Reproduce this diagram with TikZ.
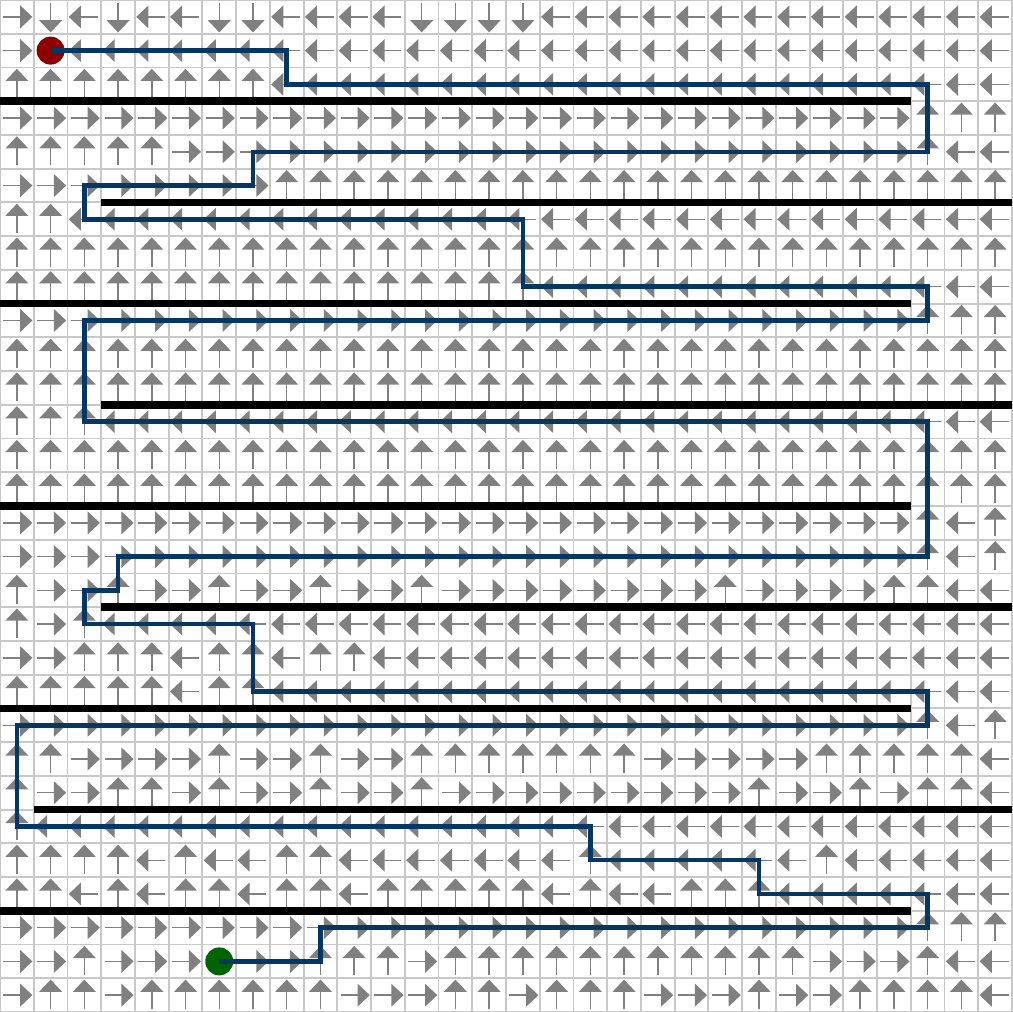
\documentclass[tikz,border=0pt]{standalone}
\usepackage{tikz}
\definecolor{gridgray}{RGB}{200,200,200}
\definecolor{arrowgray}{RGB}{128,128,128}
\definecolor{routeblue}{RGB}{4,55,99}
\definecolor{startred}{RGB}{140,0,0}
\definecolor{goalgreen}{RGB}{0,100,0}
\def\angR{0}\def\angU{90}\def\angL{180}\def\angD{270}
\tikzset{
  policy/.pic = {
    \draw[arrowgray, line width = 0.6pt] (-0.4,0) -- (0.12,0);
    \fill[arrowgray] (0.1,0.34) -- (0.46,0) -- (0.1,-0.34) -- cycle;
  },
  wall/.style = {black, line width = 3.2pt},
  route/.style = {routeblue, line width = 1.9pt, line join = miter},
  marker/.style = {circle, inner sep = 0pt, minimum size = 0.415cm},
}

\begin{document}
\begin{tikzpicture}[x = 0.5cm, y = -0.5cm]
\useasboundingbox (0,0) rectangle (30,30);
\fill[white] (0,0) rectangle (30,30);
\draw[gridgray, line width = 0.8pt, xstep = 0.5cm, ystep = 0.5cm] (0,0) grid (30,30);
% greedy policy, one row of the maze per line
\foreach \row [count = \rw from 0] in {%
{R,D,L,D,L,L,D,D,L,L,L,L,D,D,D,D,L,L,L,L,L,L,L,L,L,L,L,L,L,L},%
{R,X,L,L,L,L,L,L,L,L,L,L,L,L,L,L,L,L,L,L,L,L,L,L,L,L,L,L,L,L},%
{U,U,U,U,U,U,U,U,L,L,L,L,L,L,L,L,L,L,L,L,L,L,L,L,L,L,L,L,L,L},%
{R,R,R,R,R,R,R,R,R,R,R,R,R,R,R,R,R,R,R,R,R,R,R,R,R,R,R,U,U,U},%
{U,U,U,U,U,R,R,R,R,R,R,R,R,R,R,R,R,R,R,R,R,R,R,R,R,R,R,U,L,L},%
{R,R,R,R,R,R,R,R,U,U,U,U,U,U,U,U,U,U,U,U,U,U,U,U,U,U,U,U,U,U},%
{U,U,L,L,L,L,L,L,L,L,L,L,L,L,L,L,L,L,L,L,L,L,L,L,L,L,L,L,L,L},%
{U,U,U,U,U,U,U,U,U,U,U,U,U,U,U,U,U,U,U,U,U,U,U,U,U,U,U,U,U,U},%
{U,U,U,U,U,U,U,U,U,U,U,U,U,U,U,U,L,L,L,L,L,L,L,L,L,L,L,L,L,L},%
{R,R,R,R,R,R,R,R,R,R,R,R,R,R,R,R,R,R,R,R,R,R,R,R,R,R,R,U,U,U},%
{U,U,U,U,U,U,U,U,U,U,U,U,U,U,U,U,U,U,U,U,U,U,U,U,U,U,U,U,U,U},%
{U,U,U,U,U,U,U,U,U,U,U,U,U,U,U,U,U,U,U,U,U,U,U,U,U,U,U,U,U,U},%
{U,U,U,L,L,L,L,L,L,L,L,L,L,L,L,L,L,L,L,L,L,L,L,L,L,L,L,L,L,L},%
{U,U,U,U,U,U,U,U,U,U,U,U,U,U,U,U,U,U,U,U,U,U,U,U,U,U,U,U,U,U},%
{U,U,U,U,U,U,U,U,U,U,U,U,U,U,U,U,U,U,U,U,U,U,U,U,U,U,U,U,U,U},%
{R,R,R,R,R,R,R,R,R,R,R,R,R,R,R,R,R,R,R,R,R,R,R,R,R,R,R,U,L,U},%
{R,R,R,R,R,R,R,R,R,R,R,R,R,R,R,R,R,R,R,R,R,R,R,R,R,R,R,U,L,U},%
{U,R,R,U,R,R,U,R,R,U,R,R,U,R,R,R,R,R,R,R,R,U,R,R,R,R,U,U,L,L},%
{U,R,U,L,L,L,L,L,L,L,L,L,L,L,L,L,L,L,L,L,L,L,L,L,L,L,L,L,L,L},%
{R,R,U,U,U,L,U,U,L,U,U,L,L,L,L,L,L,L,L,L,L,L,L,L,L,L,L,L,L,L},%
{U,U,U,U,U,L,U,U,L,L,L,L,L,L,L,L,L,L,L,L,L,L,L,L,L,L,L,L,L,L},%
{R,R,R,R,R,R,R,R,R,R,R,R,R,R,R,R,R,R,R,R,R,R,R,R,R,R,R,U,L,U},%
{U,U,R,R,R,R,U,R,R,U,R,R,U,U,U,U,U,U,U,R,R,R,R,R,U,U,U,U,U,L},%
{U,R,R,U,U,R,U,R,R,U,R,R,U,R,R,R,R,R,R,R,R,R,U,R,R,U,R,U,U,L},%
{U,L,L,L,L,L,L,L,L,L,L,L,L,L,L,L,L,L,L,L,L,L,L,L,L,L,L,L,L,L},%
{U,U,U,U,L,U,L,L,U,U,L,L,L,L,L,L,L,U,L,L,L,L,L,L,U,L,L,L,L,L},%
{U,U,L,U,L,U,U,L,U,U,L,U,U,U,U,U,L,U,L,L,U,U,U,L,L,L,L,L,L,L},%
{R,R,R,R,R,R,R,R,R,R,R,R,R,R,R,R,R,R,R,R,R,R,R,R,R,R,R,U,U,U},%
{R,R,U,R,R,R,X,R,R,U,U,U,R,U,U,U,U,U,U,U,U,U,U,U,R,R,R,U,L,L},%
{R,U,U,R,U,U,U,U,U,U,R,R,R,U,U,R,U,U,U,R,R,R,U,R,R,U,U,U,U,L}%
}{
  \foreach \d [count = \col from 0] in \row {
    \if\d X\else
      \edef\ang{\csname ang\d\endcsname}
      \pic[rotate = \ang] at (\col+0.5,\rw+0.5) {policy};
    \fi
  }
}
% walls
\foreach \y/\a/\b in {3/0/27, 6/3/30, 9/0/27, 12/3/30, 15/0/27, 18/3/30, 21/0/27, 24/1/30, 27/0/27}
  \draw[wall] (\a,\y) -- (\b,\y);
\node[marker, fill = startred] (start) at (1.5,1.5) {};
\node[marker, fill = goalgreen] (goal) at (6.5,28.5) {};
\draw[route] (start.center) -- (8.5,1.5) -- (8.5,2.5) -- (27.5,2.5) -- (27.5,4.5)
  -- (7.5,4.5) -- (7.5,5.5) -- (2.5,5.5) -- (2.5,6.5) -- (15.5,6.5) -- (15.5,8.5)
  -- (27.5,8.5) -- (27.5,9.5) -- (2.5,9.5) -- (2.5,12.5) -- (27.5,12.5) -- (27.5,16.5)
  -- (3.5,16.5) -- (3.5,17.5) -- (2.5,17.5) -- (2.5,18.5) -- (7.5,18.5) -- (7.5,20.5)
  -- (27.5,20.5) -- (27.5,21.5) -- (0.5,21.5) -- (0.5,24.5) -- (17.5,24.5) -- (17.5,25.5)
  -- (22.5,25.5) -- (22.5,26.5) -- (27.5,26.5) -- (27.5,27.5) -- (9.5,27.5) -- (9.5,28.5)
  -- (goal.center);
\end{tikzpicture}
\end{document}
